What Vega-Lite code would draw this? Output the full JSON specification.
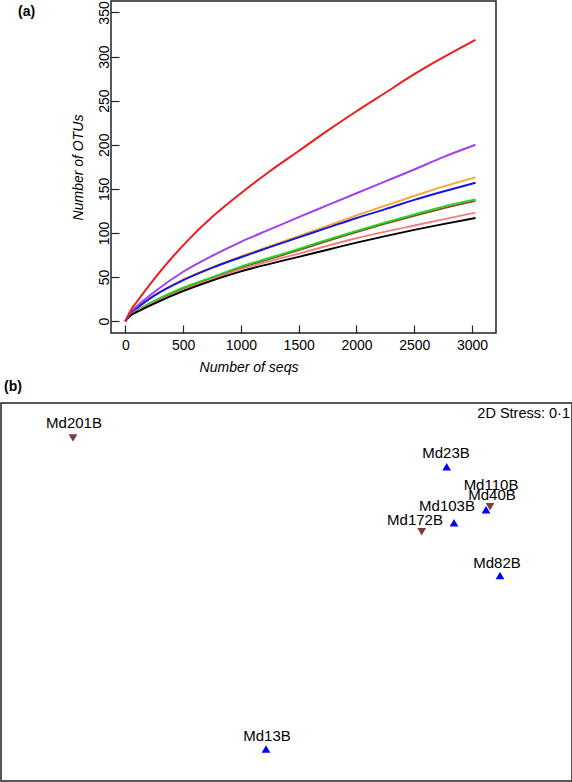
{
  "$schema": "https://vega.github.io/schema/vega-lite/v6.json",
  "padding": 0,
  "autosize": {"type": "pad"},
  "spacing": 5,
  "align": "none",
  "bounds": "full",
  "resolve": {"scale": {"color": "independent", "shape": "independent", "strokeWidth": "independent", "x": "independent", "y": "independent"}},
  "config": {
    "font": "Liberation Sans",
    "view": {"stroke": "#222", "strokeWidth": 1.5},
    "axis": {"grid": false, "labelFontSize": 14, "titleFontSize": 14, "titleFontWeight": "normal", "titleFontStyle": "italic", "labelColor": "black", "titleColor": "black", "domainColor": "#222", "domainWidth": 1.5, "tickColor": "#222", "tickWidth": 1.2, "labelFlush": false, "labelOverlap": false},
    "title": {"font": "Liberation Sans", "color": "black"}
  },
  "datasets": {
    "curves": [
      {"s":"brown","x":0,"y":0},{"s":"brown","x":50,"y":8},{"s":"brown","x":100,"y":12},{"s":"brown","x":250,"y":22.5},{"s":"brown","x":500,"y":37},{"s":"brown","x":750,"y":49},{"s":"brown","x":1000,"y":60.5},{"s":"brown","x":1250,"y":70.5},{"s":"brown","x":1500,"y":80.5},{"s":"brown","x":1750,"y":91},{"s":"brown","x":2000,"y":101},{"s":"brown","x":2250,"y":110.5},{"s":"brown","x":2500,"y":119.5},{"s":"brown","x":2750,"y":128},{"s":"brown","x":3030,"y":136.5},
      {"s":"green","x":0,"y":0},{"s":"green","x":50,"y":8},{"s":"green","x":100,"y":12},{"s":"green","x":250,"y":23},{"s":"green","x":500,"y":38},{"s":"green","x":750,"y":50},{"s":"green","x":1000,"y":62},{"s":"green","x":1250,"y":72},{"s":"green","x":1500,"y":82},{"s":"green","x":1750,"y":92.5},{"s":"green","x":2000,"y":102.5},{"s":"green","x":2250,"y":112},{"s":"green","x":2500,"y":121},{"s":"green","x":2750,"y":130},{"s":"green","x":3030,"y":138},
      {"s":"salmon","x":0,"y":0},{"s":"salmon","x":50,"y":7.5},{"s":"salmon","x":100,"y":11},{"s":"salmon","x":250,"y":21},{"s":"salmon","x":500,"y":35},{"s":"salmon","x":750,"y":47.5},{"s":"salmon","x":1000,"y":59},{"s":"salmon","x":1250,"y":68},{"s":"salmon","x":1500,"y":76.5},{"s":"salmon","x":1750,"y":85.5},{"s":"salmon","x":2000,"y":94},{"s":"salmon","x":2250,"y":101.5},{"s":"salmon","x":2500,"y":108.5},{"s":"salmon","x":2750,"y":115.5},{"s":"salmon","x":3030,"y":123},
      {"s":"black","x":0,"y":0},{"s":"black","x":50,"y":7},{"s":"black","x":100,"y":10.5},{"s":"black","x":250,"y":20},{"s":"black","x":500,"y":34},{"s":"black","x":750,"y":46},{"s":"black","x":1000,"y":56.5},{"s":"black","x":1250,"y":65},{"s":"black","x":1500,"y":73},{"s":"black","x":1750,"y":81},{"s":"black","x":2000,"y":89},{"s":"black","x":2250,"y":96.5},{"s":"black","x":2500,"y":103.5},{"s":"black","x":2750,"y":110},{"s":"black","x":3030,"y":117},
      {"s":"orange","x":0,"y":0},{"s":"orange","x":50,"y":10},{"s":"orange","x":100,"y":15},{"s":"orange","x":250,"y":29},{"s":"orange","x":500,"y":47},{"s":"orange","x":750,"y":61},{"s":"orange","x":1000,"y":73.5},{"s":"orange","x":1250,"y":85},{"s":"orange","x":1500,"y":96.5},{"s":"orange","x":1750,"y":108},{"s":"orange","x":2000,"y":120},{"s":"orange","x":2250,"y":131},{"s":"orange","x":2500,"y":142},{"s":"orange","x":2750,"y":152.5},{"s":"orange","x":3030,"y":163},
      {"s":"blue","x":0,"y":0},{"s":"blue","x":50,"y":10},{"s":"blue","x":100,"y":15},{"s":"blue","x":250,"y":29},{"s":"blue","x":500,"y":46.5},{"s":"blue","x":750,"y":60.5},{"s":"blue","x":1000,"y":72.5},{"s":"blue","x":1250,"y":84},{"s":"blue","x":1500,"y":95},{"s":"blue","x":1750,"y":106},{"s":"blue","x":2000,"y":117},{"s":"blue","x":2250,"y":127},{"s":"blue","x":2500,"y":137.5},{"s":"blue","x":2750,"y":147},{"s":"blue","x":3030,"y":157},
      {"s":"purple","x":0,"y":0},{"s":"purple","x":50,"y":11},{"s":"purple","x":100,"y":17},{"s":"purple","x":250,"y":33},{"s":"purple","x":500,"y":56},{"s":"purple","x":750,"y":74},{"s":"purple","x":1000,"y":90},{"s":"purple","x":1250,"y":104},{"s":"purple","x":1500,"y":118},{"s":"purple","x":1750,"y":131.5},{"s":"purple","x":2000,"y":145},{"s":"purple","x":2250,"y":158.5},{"s":"purple","x":2500,"y":172},{"s":"purple","x":2750,"y":186},{"s":"purple","x":3030,"y":200},
      {"s":"red","x":0,"y":0},{"s":"red","x":50,"y":13},{"s":"red","x":100,"y":22},{"s":"red","x":250,"y":48},{"s":"red","x":500,"y":86},{"s":"red","x":750,"y":118},{"s":"red","x":1000,"y":145},{"s":"red","x":1250,"y":170},{"s":"red","x":1500,"y":193},{"s":"red","x":1750,"y":216},{"s":"red","x":2000,"y":238},{"s":"red","x":2250,"y":259},{"s":"red","x":2500,"y":280},{"s":"red","x":2750,"y":299},{"s":"red","x":3030,"y":319}
    ],
    "nmds": [
      {"id":"Md201B","grp":"down","x":-1.0675,"y":0.774,"lx":-1.0625,"ly":0.850},
      {"id":"Md23B","grp":"up","x":0.801,"y":0.629,"lx":0.7975,"ly":0.699},
      {"id":"Md110B","grp":"up","x":0.9975,"y":0.414,"lx":1.0225,"ly":0.539},
      {"id":"Md40B","grp":"down","x":1.0175,"y":0.429,"lx":1.0275,"ly":0.489},
      {"id":"Md103B","grp":"up","x":0.8375,"y":0.348,"lx":0.8025,"ly":0.434},
      {"id":"Md172B","grp":"down","x":0.676,"y":0.303,"lx":0.6425,"ly":0.363},
      {"id":"Md82B","grp":"up","x":1.0675,"y":0.083,"lx":1.0525,"ly":0.148},
      {"id":"Md13B","grp":"up","x":-0.1025,"y":-0.789,"lx":-0.0975,"ly":-0.724}
    ]
  },
  "vconcat": [
    {
      "width": 495,
      "height": 332,
      "view": {"stroke": null},
      "title": {"text": "(a)", "anchor": "start", "frame": "group", "dx": 17, "dy": 19, "offset": 0, "fontSize": 14, "fontWeight": "bold"},
      "layer": [
        {
          "data": {"values": [{"frame": "box"}]},
          "mark": {"type": "rect", "fill": null, "stroke": "#222", "strokeWidth": 1.5},
          "encoding": {
            "x": {"datum": -124, "type": "quantitative"},
            "x2": {"datum": 3207},
            "y": {"datum": -13.4, "type": "quantitative"},
            "y2": {"datum": 363}
          }
        },
        {
          "data": {"name": "curves"},
          "mark": {"type": "line", "interpolate": "monotone"},
          "encoding": {
            "x": {"field": "x", "type": "quantitative", "scale": {"domain": [-1075.7, 3207], "nice": false, "zero": false},
                  "axis": {"title": "Number of seqs", "format": "d", "values": [0, 500, 1000, 1500, 2000, 2500, 3000], "domain": false, "tickSize": -8, "labelPadding": 13, "titlePadding": 8}},
            "y": {"field": "y", "type": "quantitative", "scale": {"domain": [-13.4, 363], "nice": false, "zero": false},
                  "axis": {"title": "Number of OTUs", "offset": -110, "domain": false, "values": [0, 50, 100, 150, 200, 250, 300, 350], "tickSize": -8, "labelAngle": -90, "labelAlign": "center", "labelBaseline": "alphabetic", "labelPadding": 11, "titlePadding": 12}},
            "color": {"field": "s", "type": "nominal", "legend": null,
                      "scale": {"domain": ["brown", "green", "salmon", "black", "orange", "blue", "purple", "red"],
                                "range": ["#8b4a2b", "#22d822", "#f08080", "#000000", "#f5a530", "#1414e6", "#a040ec", "#ee1c1c"]}},
            "strokeWidth": {"field": "s", "type": "nominal", "legend": null,
                      "scale": {"domain": ["brown", "green", "salmon", "black", "orange", "blue", "purple", "red"],
                                "range": [1.8, 2, 3, 3, 1.8, 1.8, 1.8, 1.8]}}
          }
        }
      ]
    },
    {
      "width": 571,
      "height": 378,
      "title": {"text": "(b)", "anchor": "start", "frame": "group", "dx": 3, "offset": 9, "fontSize": 14, "fontWeight": "bold"},
      "layer": [
        {
          "data": {"name": "nmds"},
          "mark": {"type": "point", "filled": true, "size": 75, "opacity": 1},
          "encoding": {
            "x": {"field": "x", "type": "quantitative", "scale": {"domain": [-1.4275, 1.4275], "nice": false, "zero": false}, "axis": null},
            "y": {"field": "y", "type": "quantitative", "scale": {"domain": [-0.95, 0.95], "nice": false, "zero": false}, "axis": null},
            "shape": {"field": "grp", "type": "nominal", "legend": null, "scale": {"domain": ["down", "up"], "range": ["triangle-down", "triangle-up"]}},
            "color": {"field": "grp", "type": "nominal", "legend": null, "scale": {"domain": ["down", "up"], "range": ["#7a3c3c", "#0000ff"]}}
          }
        },
        {
          "data": {"name": "nmds"},
          "mark": {"type": "text", "fontSize": 15, "baseline": "middle", "color": "black"},
          "encoding": {
            "x": {"field": "lx", "type": "quantitative"},
            "y": {"field": "ly", "type": "quantitative"},
            "text": {"field": "id"}
          }
        },
        {
          "data": {"values": [{"note": "2D Stress: 0·1", "x": 1.4175, "y": 0.895}]},
          "mark": {"type": "text", "fontSize": 14.5, "align": "right", "baseline": "middle", "color": "black"},
          "encoding": {
            "x": {"field": "x", "type": "quantitative"},
            "y": {"field": "y", "type": "quantitative"},
            "text": {"field": "note"}
          }
        }
      ]
    }
  ]
}
